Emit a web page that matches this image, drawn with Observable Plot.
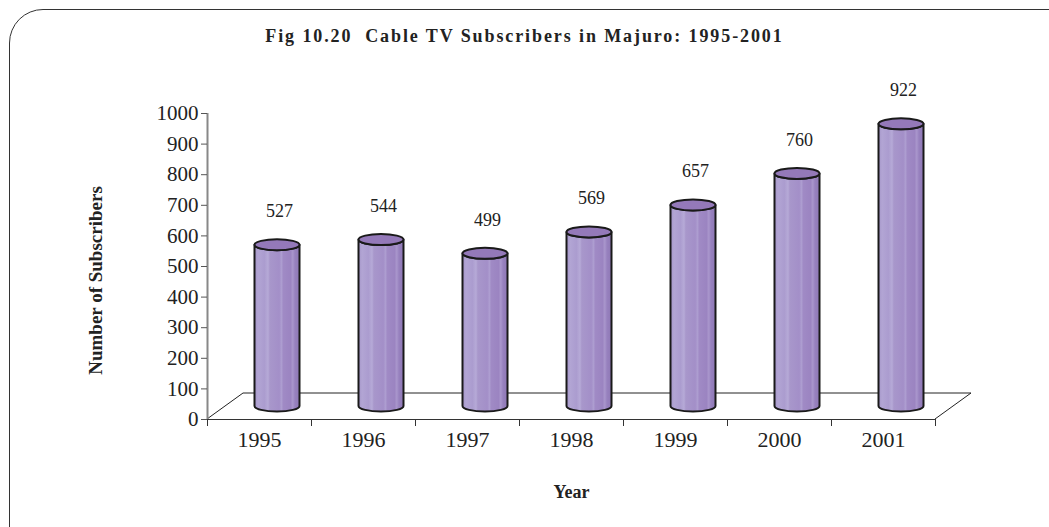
<!DOCTYPE html>
<html>
<head>
<meta charset="utf-8">
<script src="https://cdn.jsdelivr.net/npm/d3@7"></script>
<script src="https://cdn.jsdelivr.net/npm/@observablehq/plot@0.6"></script>
<style>
  html, body { margin: 0; padding: 0; background: #fff; }
  #wrap { position: relative; width: 1049px; height: 527px; overflow: hidden; font-family: "Liberation Serif", serif; }
  #border { position: absolute; left: 9px; top: 9px; width: 1100px; height: 600px; border: 1.5px solid #333; border-radius: 34px; box-sizing: border-box; }
  #title { position: absolute; left: 0; top: 26px; width: 1049px; text-align: center; font-weight: bold; font-size: 18px; letter-spacing: 1.9px; color: #222; }
  #chart { position: absolute; left: 0; top: 0; }
</style>
</head>
<body>
<div id="wrap">
  <div id="border"></div>
  <div id="title">Fig 10.20&nbsp; Cable TV Subscribers in Majuro: 1995-2001</div>
  <div id="chart"></div>
</div>
<script>
const years = ["1995", "1996", "1997", "1998", "1999", "2000", "2001"];
const subscribers = [527, 544, 499, 569, 657, 760, 922];
const yTicks = [0, 100, 200, 300, 400, 500, 600, 700, 800, 900, 1000];
const yLabel = "Number of Subscribers";
const xLabel = "Year";

const data = years.map((year, i) => ({year, i, pos: i + 0.5, value: subscribers[i]}));

// 3D projection style constants (pixels)
const DEPTH_DX = 36, DEPTH_DY = -26;
const MID_DX = DEPTH_DX / 2, MID_DY = DEPTH_DY / 2;
const RX = 22.5, RY = 5.5;

function floorMark(index, scales) {
  const {x, y} = scales;
  const g = d3.create("svg:g");
  const x0 = x(0), x1 = x(years.length), y0 = y(0);
  g.append("path")
    .attr("d", `M${x0},${y0} L${x0 + DEPTH_DX},${y0 + DEPTH_DY} L${x1 + DEPTH_DX},${y0 + DEPTH_DY} L${x1},${y0}`)
    .attr("fill", "none").attr("stroke", "#222").attr("stroke-width", 1);
  return g.node();
}

function cylinderMark(index, scales) {
  const {x, y} = scales;
  const g = d3.create("svg:g");
  const defs = g.append("defs");
  const grad = defs.append("linearGradient").attr("id", "cylGrad")
    .attr("x1", "0").attr("x2", "1").attr("y1", "0").attr("y2", "0");
  [[0, "#a495c8"], [0.08, "#b2a5d4"], [0.22, "#ab9ccf"], [0.3, "#b6aad7"], [0.34, "#a897cb"],
   [0.55, "#a38fc8"], [0.6, "#ad9dd0"], [0.64, "#a08ac5"], [0.8, "#9b84c1"], [0.85, "#a996cc"],
   [0.9, "#9781be"], [1, "#8f78b6"]].forEach(([o, c]) =>
    grad.append("stop").attr("offset", o).attr("stop-color", c));
  data.forEach(d => {
    const cx = x(d.pos) + MID_DX;
    const top = y(d.value) + MID_DY;
    const bot = y(0) + MID_DY;
    g.append("path")
      .attr("d", `M${cx - RX},${top} A${RX},${RY} 0 0 0 ${cx + RX},${top} L${cx + RX},${bot} A${RX},${RY} 0 0 1 ${cx - RX},${bot} Z`)
      .attr("fill", "url(#cylGrad)").attr("stroke", "#1a1a1a").attr("stroke-width", 2).attr("stroke-linejoin", "round");
    g.append("ellipse")
      .attr("cx", cx).attr("cy", top).attr("rx", RX).attr("ry", RY)
      .attr("fill", "#9479b9").attr("stroke", "#1a1a1a").attr("stroke-width", 2);
  });
  return g.node();
}

const chart = Plot.plot({
  width: 1049,
  height: 527,
  marginLeft: 207,
  marginRight: 114,
  marginTop: 113,
  marginBottom: 108,
  x: {type: "linear", domain: [0, years.length]},
  y: {domain: [0, 1000]},
  style: {fontFamily: "Liberation Serif, serif", background: "transparent", color: "#222"},
  marks: [
    floorMark,
    Plot.ruleY([0], {stroke: "#333", strokeWidth: 1.2}),
    Plot.ruleX([0], {stroke: "#888", strokeWidth: 2}),
    Plot.axisY({ticks: yTicks, tickSize: 6, tickPadding: 3, fontSize: 21, label: null, stroke: "#555",
      tickFormat: d => String(d)}),
    Plot.axisX({ticks: d3.range(0, years.length + 1), tickSize: 7, tickFormat: () => "", label: null, stroke: "#333"}),
    Plot.axisX({ticks: data.map(d => d.pos), tickSize: 0, tickPadding: 12, fontSize: 22,
      tickFormat: t => years[Math.floor(t)], label: null}),
    cylinderMark,
    Plot.text(data, {x: "pos", y: "value", text: d => String(d.value), dx: MID_DX + 2, dy: -47, fontSize: 18, fill: "#222"}),
    Plot.text([yLabel], {frameAnchor: "left", textAnchor: "middle", dx: -112, dy: 14, rotate: -90, fontWeight: "bold", fontSize: 19, fill: "#222"}),
    Plot.text([xLabel], {frameAnchor: "bottom", dy: 78, fontWeight: "bold", fontSize: 18, fill: "#222", letterSpacing: 1.5})
  ]
});
document.getElementById("chart").appendChild(chart);
</script>
</body>
</html>
